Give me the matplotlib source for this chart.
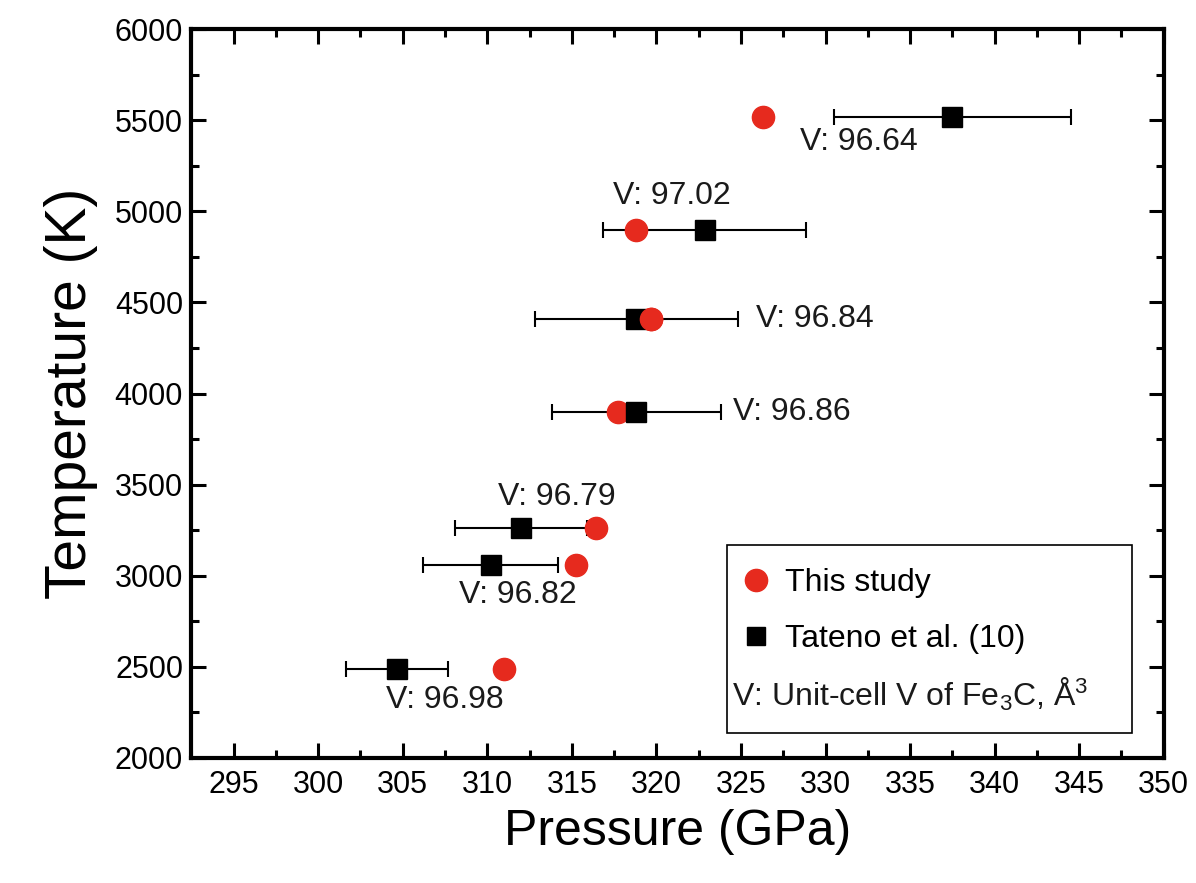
import numpy as np
import matplotlib
matplotlib.use("Agg")
import matplotlib.pyplot as plt
from matplotlib.lines import Line2D
from matplotlib.patches import Rectangle
from matplotlib.ticker import MultipleLocator

plt.rcParams["font.family"] = ["Liberation Sans", "DejaVu Sans"]
plt.rcParams["mathtext.fontset"] = "custom"
plt.rcParams["mathtext.rm"] = "Liberation Sans"
plt.rcParams["mathtext.it"] = "Liberation Sans:italic"

# This study
this_P = [311.0, 315.25, 316.4, 317.7, 319.7, 318.8, 326.3]
this_T = [2490, 3060, 3260, 3900, 4410, 4895, 5520]
# Tateno et al. (10)
tat_P = [304.65, 310.2, 312.0, 318.8, 318.8, 322.85, 337.5]
tat_T = [2490, 3060, 3260, 3900, 4410, 4895, 5520]
tat_err = [3.0, 4.0, 3.9, 5.0, 6.0, 6.0, 7.0]
# unit-cell volumes (label, P, T, ha)
vol_labels = ["V: 96.98", "V: 96.82", "V: 96.79", "V: 96.86",
              "V: 96.84", "V: 97.02", "V: 96.64"]
vol_pos = [(307.5, 2320, "center"), (311.8, 2895, "center"),
           (314.1, 3435, "center"), (324.55, 3900, "left"),
           (325.9, 4410, "left"), (320.9, 5085, "center"),
           (332.0, 5380, "center")]

RED = "#e62a1e"

fig = plt.figure(figsize=(11.96, 8.83), dpi=100)
ax = fig.add_axes([0.160, 0.1416, 0.813, 0.8254])

ax.errorbar(tat_P, tat_T, xerr=tat_err, fmt="none", ecolor="black",
            elinewidth=1.5, capsize=5.5, capthick=1.5, zorder=2)
ax.plot(this_P, this_T, "o", ms=16, color=RED, mec=RED, zorder=3)
ax.plot(tat_P, tat_T, "s", ms=15, color="black", zorder=4)
# at 4500 K the red circle sits over the square
ax.plot(this_P[4], this_T[4], "o", ms=16, color=RED, mec=RED, zorder=5)

for lab, (px, ty, ha) in zip(vol_labels, vol_pos):
    ax.text(px, ty, lab, fontsize=23, ha=ha, va="center", color="#1a1a1a")

ax.set_xlim(292.5, 350)
ax.set_ylim(2000, 6000)
ax.xaxis.set_major_locator(MultipleLocator(5))
ax.xaxis.set_minor_locator(MultipleLocator(2.5))
ax.yaxis.set_major_locator(MultipleLocator(500))
ax.yaxis.set_minor_locator(MultipleLocator(250))
ax.tick_params(which="both", direction="in", top=True, right=True,
               labelsize=22, width=2.2)
ax.tick_params(which="major", length=11)
ax.tick_params(axis="x", which="major", pad=9)
ax.tick_params(axis="y", which="major", pad=6)
ax.tick_params(which="minor", length=6)
for s in ax.spines.values():
    s.set_linewidth(3)

ax.set_xlabel("Pressure (GPa)", fontsize=36, labelpad=6)
ax.set_ylabel("Temperature (K)", fontsize=41, labelpad=12)

# legend box
ax.add_patch(Rectangle((0.5506, 0.0343), 0.4164, 0.2577, transform=ax.transAxes,
                       fill=False, ec="black", lw=1.2, zorder=6))
handles = [Line2D([], [], ls="none", marker="o", ms=16, color=RED),
           Line2D([], [], ls="none", marker="s", ms=13, color="black")]
ax.legend(handles, ["This study", "Tateno et al. (10)"], loc="upper left",
          bbox_to_anchor=(0.556, 0.278), frameon=False, fontsize=23,
          handlelength=0.7, handletextpad=0.55, labelspacing=0.8,
          borderaxespad=0)
ax.text(0.5565, 0.087, r"V: Unit-cell V of Fe$_3$C, Å$^3$", transform=ax.transAxes,
        fontsize=23, ha="left", va="center", color="#1a1a1a")

fig.savefig("out.png", dpi=100)
